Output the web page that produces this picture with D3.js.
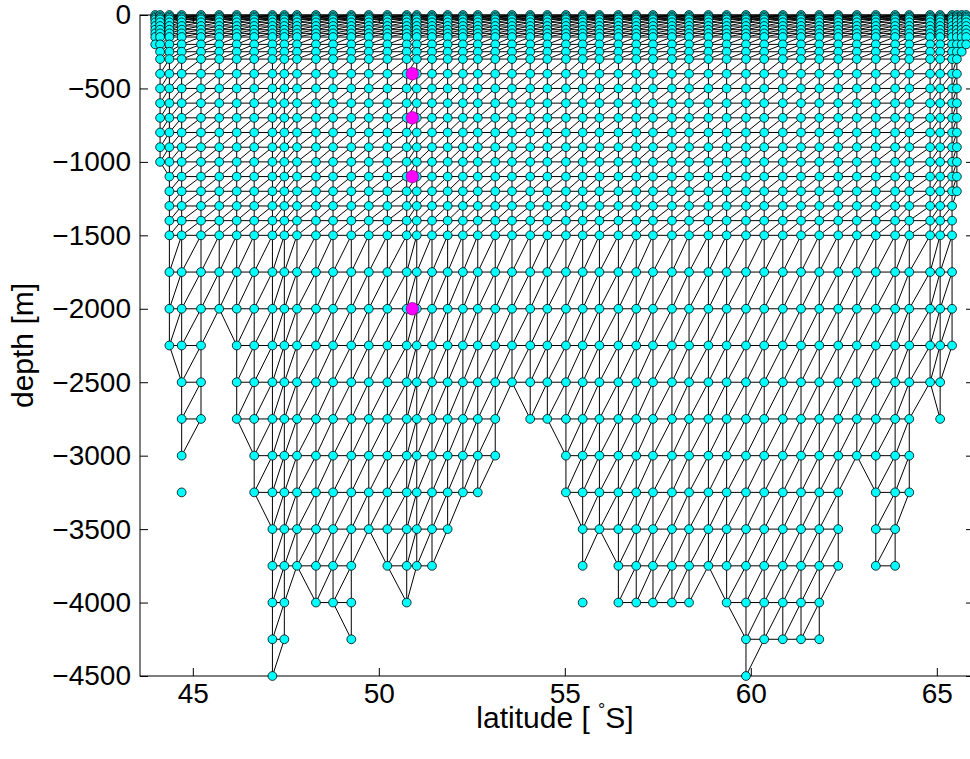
<!DOCTYPE html>
<html>
<head>
<meta charset="utf-8">
<script src="https://cdn.jsdelivr.net/npm/d3@7"></script>
<style>
  html, body { margin: 0; padding: 0; background: #fff; }
  svg { display: block; font-family: "Liberation Sans", Arial, Helvetica, sans-serif; }
</style>
</head>
<body>
<svg id="chart" width="970" height="759"></svg>
<script>
// Standard depth levels of the section grid [m]
const depthLevels = [0, 10, 20, 30, 50, 75, 100, 125, 150, 200, 250, 300,
  400, 500, 600, 700, 800, 900, 1000, 1100, 1200, 1300, 1400, 1500,
  1750, 2000, 2250, 2500, 2750, 3000, 3250, 3500, 3750, 4000, 4250, 4500];

// Station latitudes [°S]
const stationLat = [43.99, 44.12, 44.37, 44.70, 45.22, 45.71, 46.18, 46.65,
  47.14, 47.46, 47.80, 48.31, 48.77, 49.26, 49.73, 50.23, 50.75, 51.02,
  51.43, 51.85, 52.26, 52.66, 53.13, 53.58, 54.07, 54.53, 55.03, 55.48,
  55.93, 56.44, 56.92, 57.37, 57.88, 58.34, 58.86, 59.35, 59.87, 60.36,
  60.86, 61.35, 61.84, 62.35, 62.85, 63.36, 63.88, 64.26, 64.82, 65.09,
  65.41, 65.54, 65.67, 65.79];

// Deepest grid level reached at each station [m]
const stationMaxDepth = [200, 1000, 2250, 3250, 2750, 2000, 2750, 3250,
  4500, 4250, 3750, 4000, 4000, 4250, 3500, 3750, 4000, 3750,
  3750, 3500, 3250, 3250, 3000, 2500, 2750, 2750, 3250, 4000,
  3500, 4000, 4000, 4000, 4000, 4000, 3750, 4000, 4500, 4250,
  4250, 4250, 4250, 3750, 3000, 3750, 3750, 3250, 2500, 2750,
  2250, 1200, 250, 200];

// Highlighted sample positions
const sampleLat = [50.90, 50.90, 50.90, 50.90];
const sampleDepth = [400, 700, 1100, 2000];

// Axis ticks
const xTicks = [45, 50, 55, 60, 65];
const yTicks = [0, -500, -1000, -1500, -2000, -2500, -3000, -3500, -4000, -4500];

const svg = d3.select("#chart");
const mL = 140, mR = 974, mT = 15, mB = 676;

const x = d3.scaleLinear().domain([43.58, 66.0]).range([mL, mR]);
const y = d3.scaleLinear().domain([-4500, 0]).range([mB, mT]);

// Nodes: one per (station, level) down to the station's deepest level
const nLev = stationMaxDepth.map(d => depthLevels.indexOf(d) + 1);
const nodes = [];
stationLat.forEach((lat, i) => {
  for (let k = 0; k < nLev[i]; k++) nodes.push({ i, k, lat, depth: depthLevels[k] });
});

// Triangulate each pair of neighbouring stations as a strip
const edgeMap = new Map();
function addEdge(a, b) {
  const key = a[0] < b[0] || (a[0] === b[0] && a[1] < b[1])
    ? a.join(",") + "|" + b.join(",") : b.join(",") + "|" + a.join(",");
  if (!edgeMap.has(key)) edgeMap.set(key, [a, b]);
}
function addTri(a, b, c) { addEdge(a, b); addEdge(b, c); addEdge(a, c); }

for (let i = 0; i < stationLat.length - 1; i++) {
  const na = nLev[i], nb = nLev[i + 1], m = Math.min(na, nb);
  for (let k = 0; k < m - 1; k++) {
    addTri([i, k], [i, k + 1], [i + 1, k]);
    addTri([i, k + 1], [i + 1, k], [i + 1, k + 1]);
  }
  if (na > nb) addTri([i, m - 1], [i, m], [i + 1, m - 1]);
  else if (nb > na) addTri([i, m - 1], [i + 1, m - 1], [i + 1, m]);
}
const edges = Array.from(edgeMap.values());

const px = n => x(stationLat[n[0]]);
const py = n => y(-depthLevels[n[1]]);

// Axes (drawn beneath the data)
const tickLen = 8;
const fs = 28, fsLabel = 30;
const axB = svg.append("g").attr("transform", `translate(0,${mB})`)
  .call(d3.axisBottom(x).tickValues(xTicks).tickSize(-tickLen).tickPadding(7).tickFormat(d3.format("d")));
const axT = svg.append("g").attr("transform", `translate(0,${mT})`)
  .call(d3.axisTop(x).tickValues(xTicks).tickSize(-tickLen).tickFormat(""));
const axL = svg.append("g").attr("transform", `translate(${mL},0)`)
  .call(d3.axisLeft(y).tickValues(yTicks).tickSize(-tickLen).tickPadding(9).tickFormat(d => d === 0 ? "0" : "\u2212" + Math.abs(d)));
const axR = svg.append("g").attr("transform", `translate(${mR},0)`)
  .call(d3.axisRight(y).tickValues(yTicks).tickSize(-tickLen).tickFormat(""));
[axB, axT, axL, axR].forEach(g => {
  g.select(".domain").remove();
  g.selectAll(".tick line").attr("stroke", "#000").attr("stroke-width", 1);
  g.selectAll("text").attr("fill", "#000").style("font-size", fs + "px")
    .style("font-family", "'Liberation Sans', Arial, Helvetica, sans-serif");
});
svg.append("rect").attr("x", mL).attr("y", mT)
  .attr("width", mR - mL).attr("height", mB - mT)
  .attr("fill", "none").attr("stroke", "#000").attr("stroke-width", 1);

// Mesh edges
svg.append("g").selectAll("line").data(edges).join("line")
  .attr("x1", d => px(d[0])).attr("y1", d => py(d[0]))
  .attr("x2", d => px(d[1])).attr("y2", d => py(d[1]))
  .attr("stroke", "#000").attr("stroke-width", 1);

// Grid nodes
svg.append("g").selectAll("circle").data(nodes).join("circle")
  .attr("cx", d => x(d.lat)).attr("cy", d => y(-d.depth)).attr("r", 4.4)
  .attr("fill", "#00ffff").attr("stroke", "#000").attr("stroke-width", 0.8);

// Highlighted samples
svg.append("g").selectAll("circle").data(sampleLat.map((lat, j) => ({ lat, depth: sampleDepth[j] })))
  .join("circle")
  .attr("cx", d => x(d.lat)).attr("cy", d => y(-d.depth)).attr("r", 6.2)
  .attr("fill", "#ff00ff").attr("stroke", "#9a009a").attr("stroke-width", 0.8);

// Axis titles
const xl = svg.append("text").attr("x", 555).attr("y", 728)
  .attr("text-anchor", "middle").style("font-size", fsLabel + "px").attr("fill", "#000");
xl.append("tspan").text("latitude [ ");
xl.append("tspan").attr("dy", -12).style("font-size", "18px").text("\u00B0");
xl.append("tspan").attr("dy", 12).text("S]");

svg.append("text").attr("transform", `translate(33,${(mT + mB) / 2}) rotate(-90)`)
  .attr("text-anchor", "middle").style("font-size", fsLabel + "px").attr("fill", "#000")
  .text("depth [m]");
</script>
</body>
</html>
